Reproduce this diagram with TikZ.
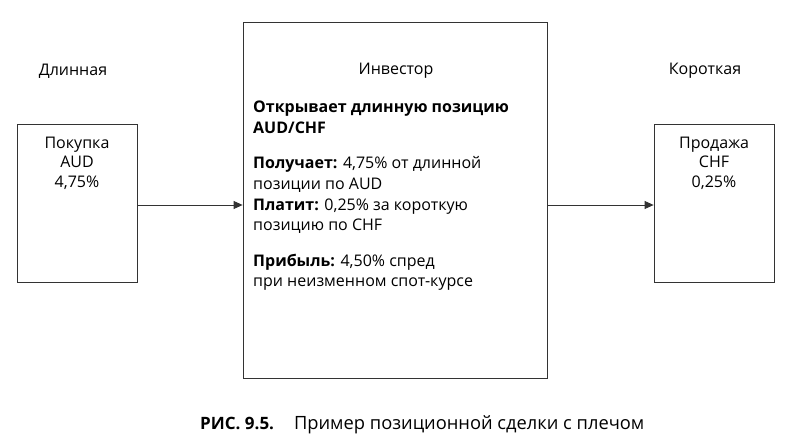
\documentclass[tikz,border=0pt]{standalone}
\usepackage{fontspec}
\setmainfont{Open Sans}
\usetikzlibrary{arrows.meta}
\begin{document}
\begin{tikzpicture}[x=1pt,y=-1pt,
  box/.style={draw=black!80,line width=0.8pt},
  lbl/.style={font=\fontsize{16}{19}\selectfont,inner sep=0pt},
  txt/.style={font=\fontsize{16}{20.7}\selectfont,inner sep=0pt,align=left,anchor=north west},
  arr/.style={draw=black!80,line width=0.8pt,-{Triangle[length=9pt,width=8pt]}}]
\useasboundingbox (0,0) rectangle (794,444);
\node[box,minimum width=120pt,minimum height=158pt,inner sep=0pt] (L) at (77,203) {};
\node[box,minimum width=304pt,minimum height=356pt,inner sep=0pt] (M) at (395,200) {};
\node[box,minimum width=120pt,minimum height=158pt,inner sep=0pt] (R) at (714,203) {};
\node[lbl] (lt) at (73,71) {Длинная};
\node[lbl] (mt) at (396,71) {Инвестор};
\node[lbl] (rt) at (705,71) {Короткая};
\node[lbl,align=center,font=\fontsize{16}{19.3}\selectfont,anchor=north] (ltxt) at (77,137) {Покупка\\AUD\\4,75\%};
\node[lbl,align=center,font=\fontsize{16}{19.3}\selectfont,anchor=north] (rtxt) at (714,137) {Продажа\\CHF\\0,25\%};
\node[txt] (body) at (253,101) {\textbf{Открывает длинную позицию}\\\textbf{AUD/CHF}\\[14.5pt]
\textbf{Получает:} 4,75\% от длинной\\позиции по AUD\\
\textbf{Платит:} 0,25\% за короткую\\позицию по CHF\\[14.5pt]
\textbf{Прибыль:} 4,50\% спред\\при неизменном спот-курсе};
\draw[arr] (L.east |- 0,205) -- (M.west |- 0,205);
\draw[arr] (M.east |- 0,205) -- (R.west |- 0,205);
\node[inner sep=0pt,anchor=west,font=\fontsize{18.3}{20}\selectfont] (cap) at (200,425) {{\fontsize{17}{20}\selectfont\textbf{РИС. 9.5.}}\hspace{20pt}Пример позиционной сделки с плечом};
\end{tikzpicture}
\end{document}
